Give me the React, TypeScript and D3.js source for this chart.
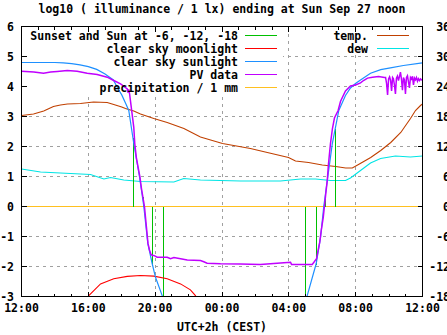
import React from "react";
import * as d3 from "d3";

const W = 447;
const H = 335;

const title = "log10 ( illuminance / 1 lx) ending at Sun Sep 27 noon";
const xAxisLabel = "UTC+2h (CEST)";
const xTickHours = [0, 4, 8, 12, 16, 20, 24];
const xTickLabels = ["12:00", "16:00", "20:00", "00:00", "04:00", "08:00", "12:00"];
const yLeftTicks = [6, 5, 4, 3, 2, 1, 0, -1, -2, -3];
const yRightTicks = [36, 30, 24, 18, 12, 6, 0, -6, -12, -18];

// Sunset and Sun at -6, -12, -18 (vertical markers)
const sunEventHours = [6.72, 7.28, 7.86, 8.52, 17.02, 17.67, 18.21, 18.81];
const sunEventLevels = [2.3, 0.33, -1.95, -3, -3, -1.95, 0.33, 2.6];

// clear sky moonlight
const moonHours = [3.9, 4.03, 4.73, 5.52, 6.33, 7.12, 7.92, 8.72, 9.52, 10.11, 10.41, 10.55];
const moonValues = [-3.15, -2.97, -2.58, -2.41, -2.33, -2.3, -2.32, -2.41, -2.58, -2.78, -2.97, -3.15];

// clear sky sunlight
const sunHours = [0, 1, 2, 2.5, 3, 3.5, 4, 4.5, 5, 5.5, 5.75, 6, 6.25, 6.42, 6.72, 7.06, 7.32, 7.56, 7.82, 8.02, 8.42, 8.6,
  16.95, 17.1, 17.64, 17.9, 18.09, 18.33, 18.6, 18.99, 19.39, 19.69, 19.99, 20.29, 20.89, 21.5, 22.08, 22.86, 23.88, 24];
const sunValues = [4.8, 4.8, 4.8, 4.79, 4.76, 4.72, 4.66, 4.57, 4.42, 4.22, 3.95, 3.72, 3.42, 3.2, 2.1, 1.0, 0.0, -1.23, -1.9, -2.36, -2.97, -3.3,
  -3.3, -2.97, -1.9, -1.02, 0.0, 0.98, 2.09, 3.2, 3.7, 3.95, 4.1, 4.22, 4.44, 4.56, 4.62, 4.7, 4.78, 4.79];

// PV data
const pvHours = [0, 0.74, 1.32, 1.74, 2.14, 2.74, 3.33, 3.93, 4.53, 5.13, 5.52, 5.93, 6.33, 6.37, 6.42, 6.47, 6.52, 6.72, 6.78, 6.88,
  7.09, 7.18, 7.36, 7.48, 7.57, 7.66, 7.75, 7.84, 7.92, 8.12, 8.72, 8.92, 9.12, 9.52, 9.92, 10.71, 10.91, 11.11, 11.91, 13.1,
  14.3, 15.5, 16.1, 16.16, 17.4, 17.5, 17.66, 17.73, 17.85, 17.94, 18.06, 18.13, 18.21, 18.3, 18.37, 18.49, 18.61, 18.73, 18.95, 19.09,
  19.39, 19.69, 19.99, 20.29, 20.47, 20.71, 21.01, 21.37, 21.73,
  21.79, 21.85, 21.91, 21.97, 22.03, 22.09, 22.15, 22.21, 22.26, 22.32, 22.38, 22.44, 22.5, 22.56, 22.62, 22.68, 22.74, 22.8, 22.86,
  22.92, 22.98, 23.04, 23.1, 23.16, 23.22, 23.28, 23.34, 23.4, 23.46, 23.52, 23.58, 23.64, 23.7, 23.76, 23.82, 23.88, 23.94, 24.0];
const pvValues = [4.51, 4.48, 4.44, 4.48, 4.5, 4.53, 4.51, 4.44, 4.4, 4.31, 4.2, 4.09, 3.92, 3.8, 3.9, 3.75, 3.53, 2.64, 2.09, 1.6,
  0.98, 0.6, 0.0, -0.7, -1.23, -1.45, -1.6, -1.63, -1.63, -1.69, -1.69, -1.74, -1.7, -1.74, -1.78, -1.8, -1.84, -1.89, -1.91, -1.92,
  -1.93, -1.88, -1.86, -1.93, -1.93, -1.86, -1.74, -1.52, -1.19, -0.8, -0.36, 0.0, 0.42, 0.87, 1.4, 2.09, 2.6, 2.95, 3.2, 3.5,
  3.85, 4.02, 4.05, 4.12, 4.2, 4.28, 4.31, 4.33, 4.3,
  4.3, 4.1, 3.72, 4.25, 4.32, 4.2, 3.85, 4.3, 4.26, 4.05, 3.75, 4.28, 4.35, 4.2, 4.33, 4.48, 4.25, 3.88, 4.3,
  4.22, 3.75, 4.3, 4.36, 4.15, 3.95, 4.3, 4.25, 4.34, 4.05, 4.28, 4.22, 4.3, 4.18, 4.26, 4.2, 4.25, 4.22, 4.24];

// precipitation / 1 mm
const precipHours = [0, 24];
const precipValues = [0, 0];

// temp. (deg C, right axis)
const tempHours = [0, 0.72, 1.33, 1.91, 2.33, 2.75, 3.53, 4.31, 5.13, 5.52, 6.0, 6.22, 6.52, 6.72, 7.12, 7.92, 8.72, 9.72, 10.71,
  12.03, 13.7, 15.98, 16.4, 17.18, 18.0, 18.8, 19.4, 19.8, 20.17, 20.9, 21.5, 22.1, 22.7, 23.28, 23.58, 23.88, 24.0];
const tempValues = [18.2, 18.5, 19.1, 20.0, 20.3, 20.5, 20.6, 20.9, 20.8, 20.4, 19.9, 19.6, 19.3, 19.1, 18.5, 17.6, 16.8, 15.6, 13.9,
  12.6, 11.6, 9.8, 9.1, 8.8, 8.3, 8.0, 7.7, 7.7, 8.4, 9.8, 11.2, 12.8, 14.8, 17.6, 19.2, 20.2, 20.5];

// dew (deg C, right axis)
const dewHours = [0, 1.14, 2.33, 4.13, 4.93, 5.33, 6.12, 7.12, 9.12, 9.71, 10.71, 13.11, 15.5, 16.7, 17.6, 18.5, 19.39, 19.69,
  20.29, 20.89, 21.49, 22.38, 23.28, 24.0];
const dewValues = [7.5, 6.9, 6.7, 6.4, 5.5, 5.8, 5.3, 5.0, 4.9, 5.6, 5.3, 5.1, 5.1, 5.5, 5.5, 5.2, 5.2, 5.7,
  7.2, 8.7, 9.6, 10.1, 9.9, 10.1];

const leftLegend = ["Sunset and Sun at -6, -12, -18", "clear sky moonlight", "clear sky sunlight", "PV data", "precipitation / 1 mm"];
const leftLegendColors = ["#00c000", "#ff0000", "#1e90ff", "#c000ff", "#ffc020"];
const rightLegend = ["temp.", "dew"];
const rightLegendColors = ["#c04000", "#00e5e5"];

const FONT = "'DejaVu Sans Mono', 'Liberation Mono', monospace";

export default function App() {
  const x = d3.scaleLinear().domain([0, 24]).range([21.5, 422.5]);
  const y = d3.scaleLinear().domain([-3, 6]).range([296.5, 26.5]);
  const y2 = d3.scaleLinear().domain([-18, 36]).range([296.5, 26.5]);

  const zip = (a: number[], b: number[]) => a.map((h, i) => [h, b[i]] as [number, number]);
  const lineL = d3.line<[number, number]>().x((d) => x(d[0])).y((d) => y(d[1]));
  const lineR = d3.line<[number, number]>().x((d) => x(d[0])).y((d) => y2(d[1]));

  const gridX = xTickHours.slice(1, -1);
  const gridY = yLeftTicks.slice(1, -1);
  const minorHours = d3.range(1, 24).filter((h) => h % 4 !== 0);

  const leftRows = [36, 49, 62, 75, 88];
  const rightRows = [36, 49];

  return (
    <div style={{ position: "fixed", left: 0, top: 0, width: W, height: H, background: "#fff" }}>
      <svg width={W} height={H} style={{ display: "block" }} fontFamily={FONT} fontWeight="bold" fontSize={11.5}>
        <defs>
          <clipPath id="plotClip">
            <rect x={21.5} y={26.5} width={401} height={270} />
          </clipPath>
          <mask id="gridMask">
            <rect x={0} y={0} width={W} height={H} fill="white" />
            <rect x={21} y={26} width={262} height={67} fill="black" />
            <rect x={293} y={26} width={125} height={28} fill="black" />
          </mask>
        </defs>
        <rect x={0} y={0} width={W} height={H} fill="#fff" />

        {/* grid */}
        <g mask="url(#gridMask)" stroke="#a0a0a0" strokeWidth={1} strokeDasharray="3,4" shapeRendering="crispEdges">
          {gridX.map((h) => (
            <line key={"gx" + h} x1={x(h)} x2={x(h)} y1={y(6)} y2={y(-3)} />
          ))}
          {gridY.map((v) => (
            <line key={"gy" + v} x1={x(0)} x2={x(24)} y1={y(v)} y2={y(v)} />
          ))}
        </g>

        <g clipPath="url(#plotClip)" fill="none">
          <path d={lineR(zip(tempHours, tempValues)) || ""} stroke={rightLegendColors[0]} strokeWidth={1.1} />
          <path d={lineR(zip(dewHours, dewValues)) || ""} stroke={rightLegendColors[1]} strokeWidth={1.1} />
          <path d={lineL(zip(precipHours, precipValues)) || ""} stroke={leftLegendColors[4]} strokeWidth={1.2} shapeRendering="crispEdges" />
          {sunEventHours.map((h, i) => (
            <line key={"se" + i} x1={x(h)} x2={x(h)} y1={y(0)} y2={y(sunEventLevels[i])} stroke={leftLegendColors[0]} strokeWidth={1.2} shapeRendering="crispEdges" />
          ))}
          <path d={lineL(zip(moonHours, moonValues)) || ""} stroke={leftLegendColors[1]} strokeWidth={1.1} />
          <path d={lineL(zip(sunHours, sunValues)) || ""} stroke={leftLegendColors[2]} strokeWidth={1.2} />
          <path d={lineL(zip(pvHours, pvValues)) || ""} stroke={leftLegendColors[3]} strokeWidth={1.5} />
        </g>

        {/* border and ticks */}
        <g stroke="#000" strokeWidth={1} shapeRendering="crispEdges">
          <rect x={21.5} y={26.5} width={401} height={270} fill="none" />
          {yLeftTicks.map((v) => (
            <g key={"yt" + v}>
              <line x1={x(0)} x2={x(0) + 5} y1={y(v)} y2={y(v)} />
              <line x1={x(24)} x2={x(24) - 5} y1={y(v)} y2={y(v)} />
            </g>
          ))}
          {xTickHours.map((h) => (
            <g key={"xt" + h}>
              <line x1={x(h)} x2={x(h)} y1={y(-3)} y2={y(-3) - 5} />
              <line x1={x(h)} x2={x(h)} y1={y(6)} y2={y(6) + 5} />
            </g>
          ))}
          {minorHours.map((h) => (
            <g key={"xm" + h}>
              <line x1={x(h)} x2={x(h)} y1={y(-3)} y2={y(-3) - 3} />
              <line x1={x(h)} x2={x(h)} y1={y(6)} y2={y(6) + 3} />
            </g>
          ))}
        </g>

        {/* labels */}
        <g fill="#000">
          <text x={222} y={9} dy="0.35em" textAnchor="middle">{title}</text>
          {yLeftTicks.map((v) => (
            <text key={"yl" + v} x={14} y={y(v)} dy="0.35em" textAnchor="end">{v}</text>
          ))}
          {yRightTicks.map((v) => (
            <text key={"yr" + v} x={450} y={y2(v)} dy="0.35em" textAnchor="end">{v}</text>
          ))}
          {xTickHours.map((h, i) => (
            <text key={"xl" + i} x={x(h)} y={308} dy="0.35em" textAnchor="middle">{xTickLabels[i]}</text>
          ))}
          <text x={222} y={327} dy="0.35em" textAnchor="middle">{xAxisLabel}</text>
        </g>

        {/* legends */}
        <g>
          {leftLegend.map((t, i) => (
            <g key={"ll" + i}>
              <text x={238} y={leftRows[i]} dy="0.35em" textAnchor="end" fill="#000">{t}</text>
              <line x1={245} x2={277} y1={leftRows[i] - 0.5} y2={leftRows[i] - 0.5} stroke={leftLegendColors[i]} strokeWidth={1.2} shapeRendering="crispEdges" />
            </g>
          ))}
          {rightLegend.map((t, i) => (
            <g key={"rl" + i}>
              <text x={368} y={rightRows[i]} dy="0.35em" textAnchor="end" fill="#000">{t}</text>
              <line x1={377} x2={409} y1={rightRows[i] - 0.5} y2={rightRows[i] - 0.5} stroke={rightLegendColors[i]} strokeWidth={1.2} shapeRendering="crispEdges" />
            </g>
          ))}
        </g>
      </svg>
    </div>
  );
}
